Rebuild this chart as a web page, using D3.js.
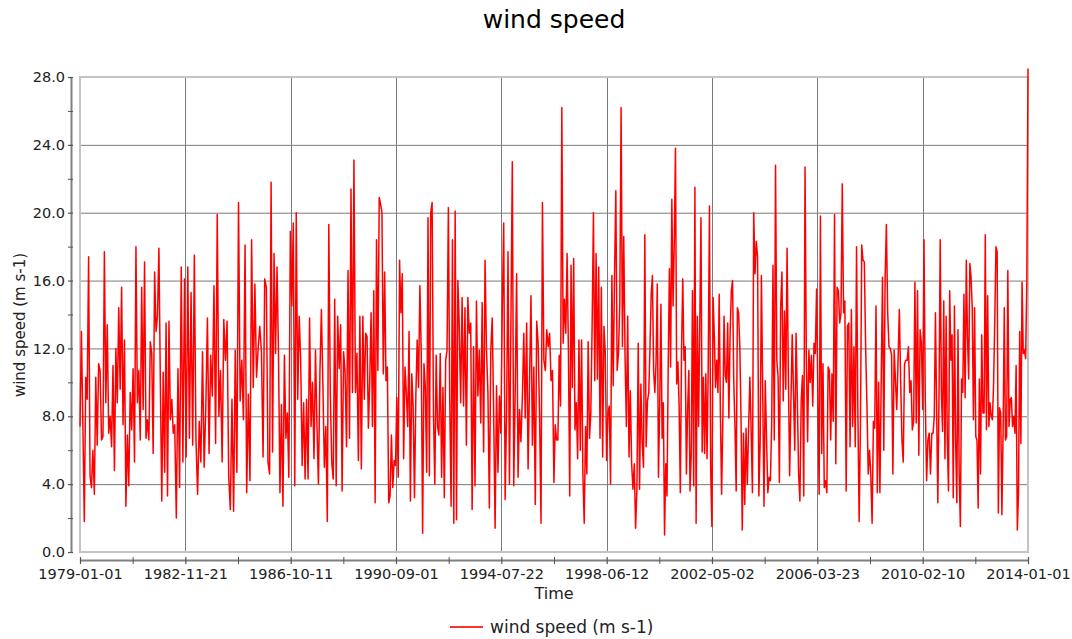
<!DOCTYPE html>
<html>
<head>
<meta charset="utf-8">
<script src="https://cdn.jsdelivr.net/npm/d3@7"></script>
<style>
body { margin: 0; background: #fff; }
svg text { font-family: 'DejaVu Sans', sans-serif; fill: #222; }
</style>
</head>
<body>
<div id="chart"></div>
<script>
// segment boundaries; values inside each segment are evenly spaced in time
const segmentBreaks = ['1979-01-01', '1982-07-01', '1986-01-01', '1989-07-01', '1993-01-01',
    '1996-07-01', '2000-01-01', '2003-07-01', '2007-01-01', '2010-07-01', '2014-01-01']

const speed1979 = [7.4, 13.0, 7.5, 1.8, 10.3, 9.0, 17.4, 4.5, 3.8, 6.0, 3.4, 10.3, 6.3, 11.1, 10.7, 6.6,
    6.8, 17.7, 8.8, 13.4, 7.0, 8.0, 6.2, 11.0, 4.8, 12.0, 8.8, 14.4, 9.6, 15.6, 7.5, 12.5, 2.7, 6.9,
    3.9, 9.4, 7.2, 10.8, 5.3, 18.0, 8.8, 10.7, 6.6, 15.6, 8.4, 17.1, 6.7, 7.8, 6.6, 12.4, 11.7, 5.8,
    16.5, 13.0, 13.9, 17.9, 10.0, 3.0, 10.6, 4.7, 13.5, 3.3, 13.6, 7.8, 9.0, 7.0]
const speed1982 = [7.5, 2.0, 10.8, 3.8, 16.8, 5.3, 16.1, 5.6, 16.8, 6.7, 15.3, 6.3, 17.5, 6.6, 3.4, 7.7,
    5.3, 11.8, 5.0, 8.5, 13.8, 5.8, 11.6, 9.2, 15.7, 6.4, 19.9, 8.0, 10.7, 5.3, 13.7, 11.3, 13.6, 4.5,
    2.5, 9.0, 2.4, 11.9, 4.7, 20.6, 8.9, 11.3, 7.8, 18.1, 3.5, 9.3, 4.2, 18.4, 9.7, 15.8, 10.3, 12.0,
    13.3, 11.8, 5.6, 16.1, 15.6, 5.3]
const speed1986 = [4.6, 21.8, 5.9, 17.6, 11.7, 16.8, 11.7, 3.5, 8.7, 2.7, 11.6, 6.7, 8.2, 4.4, 18.9, 14.5,
    19.4, 3.9, 20.0, 9.0, 13.9, 11.3, 5.1, 8.8, 4.3, 9.0, 4.3, 13.8, 7.4, 10.0, 5.5, 11.9, 7.4, 4.0,
    10.6, 14.3, 9.9, 5.0, 7.4, 1.8, 19.3, 9.4, 5.3, 4.3, 14.9, 3.9, 13.9, 10.8, 13.4, 3.6, 11.8, 10.6,
    6.2, 16.6, 6.7, 21.4, 9.4, 23.1, 9.4, 11.7, 5.4, 13.9, 4.9, 13.9]
const speed1989 = [9.0, 12.9, 12.7, 7.3, 10.1, 14.1, 7.4, 15.4, 2.9, 18.4, 10.7, 20.9, 20.5, 20.0, 10.5, 16.5,
    10.1, 10.9, 2.9, 3.3, 6.9, 3.8, 5.4, 5.1, 9.1, 4.4, 17.2, 14.1, 16.4, 5.5, 10.9, 9.4, 7.4, 13.0,
    3.0, 10.5, 8.6, 3.2, 9.2, 12.5, 9.7, 15.7, 11.7, 1.1, 11.1, 9.7, 4.7, 19.7, 4.5, 20.0, 20.6, 8.2,
    4.0, 11.6, 7.4, 6.9, 11.7, 4.4, 9.7, 3.2, 11.3, 11.9, 20.3, 9.0, 2.7, 18.4, 1.7, 20.1, 1.9, 16.0]
const speed1993 = [13.4, 8.8, 15.0, 8.6, 14.4, 6.3, 15.0, 12.9, 13.5, 2.5, 12.1, 3.9, 14.8, 9.2, 11.9, 7.6,
    14.7, 5.9, 17.2, 11.9, 9.4, 2.6, 11.9, 13.8, 8.2, 1.4, 9.8, 4.7, 9.2, 7.0, 14.3, 19.4, 3.1, 8.2,
    17.7, 4.0, 13.3, 23.0, 3.9, 9.4, 16.4, 4.4, 8.4, 6.5, 9.1, 12.9, 7.9, 13.5, 4.9, 10.1, 15.1, 6.3,
    10.9, 2.8, 13.6, 12.3, 8.0, 1.7, 20.6, 11.3, 10.7, 13.1, 12.1, 12.9, 10.1, 10.7]
const speed1996 = [4.1, 7.5, 6.6, 6.6, 11.6, 8.6, 26.2, 12.3, 14.9, 12.9, 17.6, 11.9, 3.3, 16.9, 9.7, 17.3,
    7.2, 8.8, 5.5, 12.5, 6.0, 12.5, 4.6, 1.7, 7.4, 4.6, 12.4, 6.7, 8.2, 13.3, 20.0, 10.1, 17.6, 10.2,
    16.8, 6.7, 15.6, 5.6, 13.3, 11.7, 5.4, 8.2, 8.6, 4.0, 16.3, 9.8, 16.2, 21.3, 10.7, 11.7, 14.6, 26.2,
    12.1, 18.6, 11.5, 7.4, 13.9, 5.6, 9.5, 5.2, 3.7, 5.2, 1.4, 3.7, 12.3, 3.7, 9.9, 6.4, 5.0, 18.7,
    6.2, 8.9]
const speed2000 = [9.4, 12.1, 15.2, 16.3, 10.7, 9.4, 11.2, 15.8, 4.4, 8.6, 14.6, 6.7, 8.8, 1.0, 5.2, 3.3,
    10.8, 16.7, 10.9, 20.8, 14.5, 18.2, 23.8, 9.9, 11.2, 8.6, 3.5, 11.9, 16.1, 11.3, 12.1, 4.6, 8.4, 10.7,
    3.6, 5.8, 15.4, 3.9, 21.5, 1.7, 13.9, 7.4, 13.3, 19.7, 5.9, 10.3, 5.8, 10.5, 5.5, 11.2, 20.4, 4.9,
    1.5, 15.0, 12.7, 9.7, 11.3, 9.4, 15.2, 8.2, 3.4, 7.8, 13.9, 10.4, 10.0, 13.5, 7.9, 12.9, 15.4, 16.0,
    10.1, 7.4, 3.6, 14.4, 14.1, 12.1, 7.9, 1.3]
const speed2003 = [7.0, 2.8, 7.3, 4.0, 7.3, 10.3, 7.1, 3.5, 20.0, 16.4, 18.3, 17.4, 3.3, 6.4, 16.3, 9.4,
    2.7, 10.1, 6.6, 3.5, 4.4, 4.2, 7.6, 16.9, 6.6, 22.8, 11.3, 10.3, 4.1, 14.4, 16.5, 8.9, 14.2, 9.6,
    17.9, 10.4, 4.5, 8.8, 12.8, 9.4, 6.0, 12.9, 9.0, 4.6, 3.0, 8.9, 10.4, 3.3, 22.7, 11.6, 6.5, 11.9,
    10.0, 11.6, 8.6, 12.3, 11.7, 15.5, 9.2, 3.4, 19.8, 5.8, 11.1, 3.8, 4.2, 3.5, 10.9, 10.7, 6.6, 10.5,
    7.7, 19.9, 5.2, 15.6]
const speed2007 = [15.4, 13.5, 14.1, 21.7, 14.1, 14.8, 3.6, 13.3, 13.5, 6.2, 14.3, 7.4, 12.1, 6.2, 18.0, 8.5,
    1.8, 7.4, 18.1, 17.2, 17.1, 12.1, 8.7, 4.6, 6.0, 4.5, 1.7, 7.7, 7.3, 14.5, 3.5, 10.0, 3.5, 10.1,
    16.2, 6.0, 16.0, 19.3, 14.1, 12.1, 12.0, 11.6, 4.6, 11.9, 10.1, 8.4, 11.3, 14.3, 10.1, 6.6, 5.3, 11.1,
    11.3, 11.3, 12.1, 9.4, 10.1, 7.2, 7.7, 15.9, 7.6, 15.4, 5.7, 13.1, 12.3, 8.4, 18.4, 8.9, 4.2, 6.6,
    7.0, 4.6, 7.0]
const speed2010 = [7.0, 8.0, 14.1, 8.4, 2.9, 9.2, 18.4, 9.4, 7.1, 14.8, 5.5, 13.9, 6.6, 3.6, 15.4, 11.3,
    12.8, 3.2, 14.5, 6.6, 2.9, 13.1, 4.6, 1.5, 10.2, 9.4, 15.2, 9.1, 17.2, 12.7, 10.2, 17.0, 16.2, 14.4,
    7.8, 14.4, 6.8, 6.6, 2.6, 10.2, 4.6, 12.8, 8.2, 8.2, 18.7, 7.2, 15.1, 7.4, 8.8, 8.0, 7.8, 9.9,
    13.7, 18.0, 17.7, 2.3, 8.5, 8.2, 2.2, 7.0, 14.4, 6.6, 6.8, 16.6, 7.4, 9.0, 9.1, 7.4, 8.0, 7.0,
    11.0, 1.3, 3.5, 13.0, 6.4, 15.9, 11.7, 11.9, 11.4, 16.0, 28.5]

const yMajorTicks = [0, 4, 8, 12, 16, 20, 24, 28]
const yMinorTicks = [2, 6, 10, 14, 18, 22, 26]
const xTickLabels = ['1979-01-01', '1982-11-21', '1986-10-11', '1990-09-01', '1994-07-22',
    '1998-06-12', '2002-05-02', '2006-03-23', '2010-02-10', '2014-01-01']

const seriesName = 'wind speed (m s-1)'

const width = 1072
const height = 639
const plot = {left: 80, right: 1028, top: 77, bottom: 552}

const parse = d3.utcParse('%Y-%m-%d')
const segments = [speed1979, speed1982, speed1986, speed1989, speed1993,
    speed1996, speed2000, speed2003, speed2007, speed2010]

const points = segments.flatMap((vals, k) => {
    const t0 = +parse(segmentBreaks[k])
    const t1 = +parse(segmentBreaks[k + 1])
    const n = k === segments.length - 1 ? vals.length - 1 : vals.length
    return vals.map((v, i) => ({date: new Date(t0 + (t1 - t0) * i / n), value: v}))
})

const x = d3
    .scaleUtc()
    .domain([parse(xTickLabels[0]), parse(xTickLabels[xTickLabels.length - 1])])
    .range([plot.left, plot.right])
const y = d3
    .scaleLinear()
    .domain([0, 28])
    .range([plot.bottom, plot.top])

// major ticks split the time span in 9 equal parts, minor ticks halve them
const [t0, t1] = x.domain().map(Number)
const xMajor = d3.range(10).map(i => new Date(t0 + (t1 - t0) * i / 9))
const xMinor = d3.range(9).map(i => new Date(t0 + (t1 - t0) * (i + 0.5) / 9))
const fmt = d3.utcFormat('%Y-%m-%d')

const svg = d3
    .select('#chart')
    .append('svg')
    .attr('width', width)
    .attr('height', height)

svg.append('rect')
    .attr('width', width)
    .attr('height', height)
    .attr('fill', '#fff')

// title
svg.append('text')
    .attr('x', 554)
    .attr('y', 28)
    .attr('text-anchor', 'middle')
    .style('font-size', '25px')
    .style('fill', '#000')
    .text('wind speed')

// grid
const grid = svg.append('g')
grid.selectAll('.hgrid')
    .data(yMajorTicks.filter(d => d > 0 && d < 28))
    .enter()
    .append('line')
    .attr('x1', plot.left)
    .attr('x2', plot.right)
    .attr('y1', d => y(d) + 0.5)
    .attr('y2', d => y(d) + 0.5)
    .attr('stroke', '#7a7a7a')
    .attr('stroke-width', 1)
grid.selectAll('.vgrid')
    .data(xMajor.slice(1, -1))
    .enter()
    .append('line')
    .attr('x1', d => Math.round(x(d)) + 0.5)
    .attr('x2', d => Math.round(x(d)) + 0.5)
    .attr('y1', plot.top)
    .attr('y2', plot.bottom)
    .attr('stroke', '#7a7a7a')
    .attr('stroke-width', 1)

// plot border
svg.append('rect')
    .attr('x', plot.left)
    .attr('y', plot.top)
    .attr('width', plot.right - plot.left)
    .attr('height', plot.bottom - plot.top)
    .attr('fill', 'none')
    .attr('stroke', '#c4c4c4')
    .attr('stroke-width', 2)

// series
const line = d3
    .line()
    .x(d => x(d.date))
    .y(d => y(d.value))

svg.append('path')
    .datum(points)
    .attr('d', line)
    .attr('fill', 'none')
    .attr('stroke', '#ff0000')
    .attr('stroke-width', 1.5)
    .attr('stroke-linejoin', 'round')

// axes
const styleAxis = (g, cross) => {
    g.select('.domain').attr('stroke', '#808080').attr('stroke-width', 2)
    g.selectAll('.tick line').attr('stroke', '#555').attr('stroke-width', 1.2)
    g.selectAll('.tick text').style('font-size', '14.5px').style('fill', '#222')
    cross(g.selectAll('.tick line'))
}

const yAxisX = 71
const yAxis = svg.append('g')
    .attr('transform', `translate(${yAxisX},0)`)
    .call(d3.axisLeft(y).tickValues(yMajorTicks).tickFormat(d3.format('.1f')).tickSize(3).tickSizeOuter(0).tickPadding(3))
styleAxis(yAxis, s => s.attr('x1', 2).attr('x2', -3))
svg.append('g')
    .attr('transform', `translate(${yAxisX},0)`)
    .call(d3.axisLeft(y).tickValues(yMinorTicks).tickFormat('').tickSize(3).tickSizeOuter(0))
    .call(g => g.select('.domain').remove())
    .selectAll('.tick line')
    .attr('stroke', '#555')
    .attr('x1', 2)

const xAxisY = 560
const xAxis = svg.append('g')
    .attr('transform', `translate(0,${xAxisY})`)
    .call(d3.axisBottom(x).tickValues(xMajor).tickFormat(fmt).tickSize(4).tickSizeOuter(0).tickPadding(5))
styleAxis(xAxis, s => s.attr('y1', -3).attr('y2', 4))
svg.append('g')
    .attr('transform', `translate(0,${xAxisY})`)
    .call(d3.axisBottom(x).tickValues(xMinor).tickFormat('').tickSize(4).tickSizeOuter(0))
    .call(g => g.select('.domain').remove())
    .selectAll('.tick line')
    .attr('stroke', '#555')
    .attr('y1', -3)

// axis titles
svg.append('text')
    .attr('x', 554)
    .attr('y', 599)
    .attr('text-anchor', 'middle')
    .style('font-size', '16px')
    .text('Time')

svg.append('text')
    .attr('transform', 'translate(25,325) rotate(-90)')
    .attr('text-anchor', 'middle')
    .style('font-size', '15px')
    .text(seriesName)

// legend
const legend = svg.append('g').attr('transform', 'translate(450,627)')
legend.append('line')
    .attr('x1', 0)
    .attr('x2', 33)
    .attr('stroke', '#ff3030')
    .attr('stroke-width', 2)
legend.append('text')
    .attr('x', 40)
    .attr('y', 6)
    .style('font-size', '17px')
    .text(seriesName)
</script>
</body>
</html>
